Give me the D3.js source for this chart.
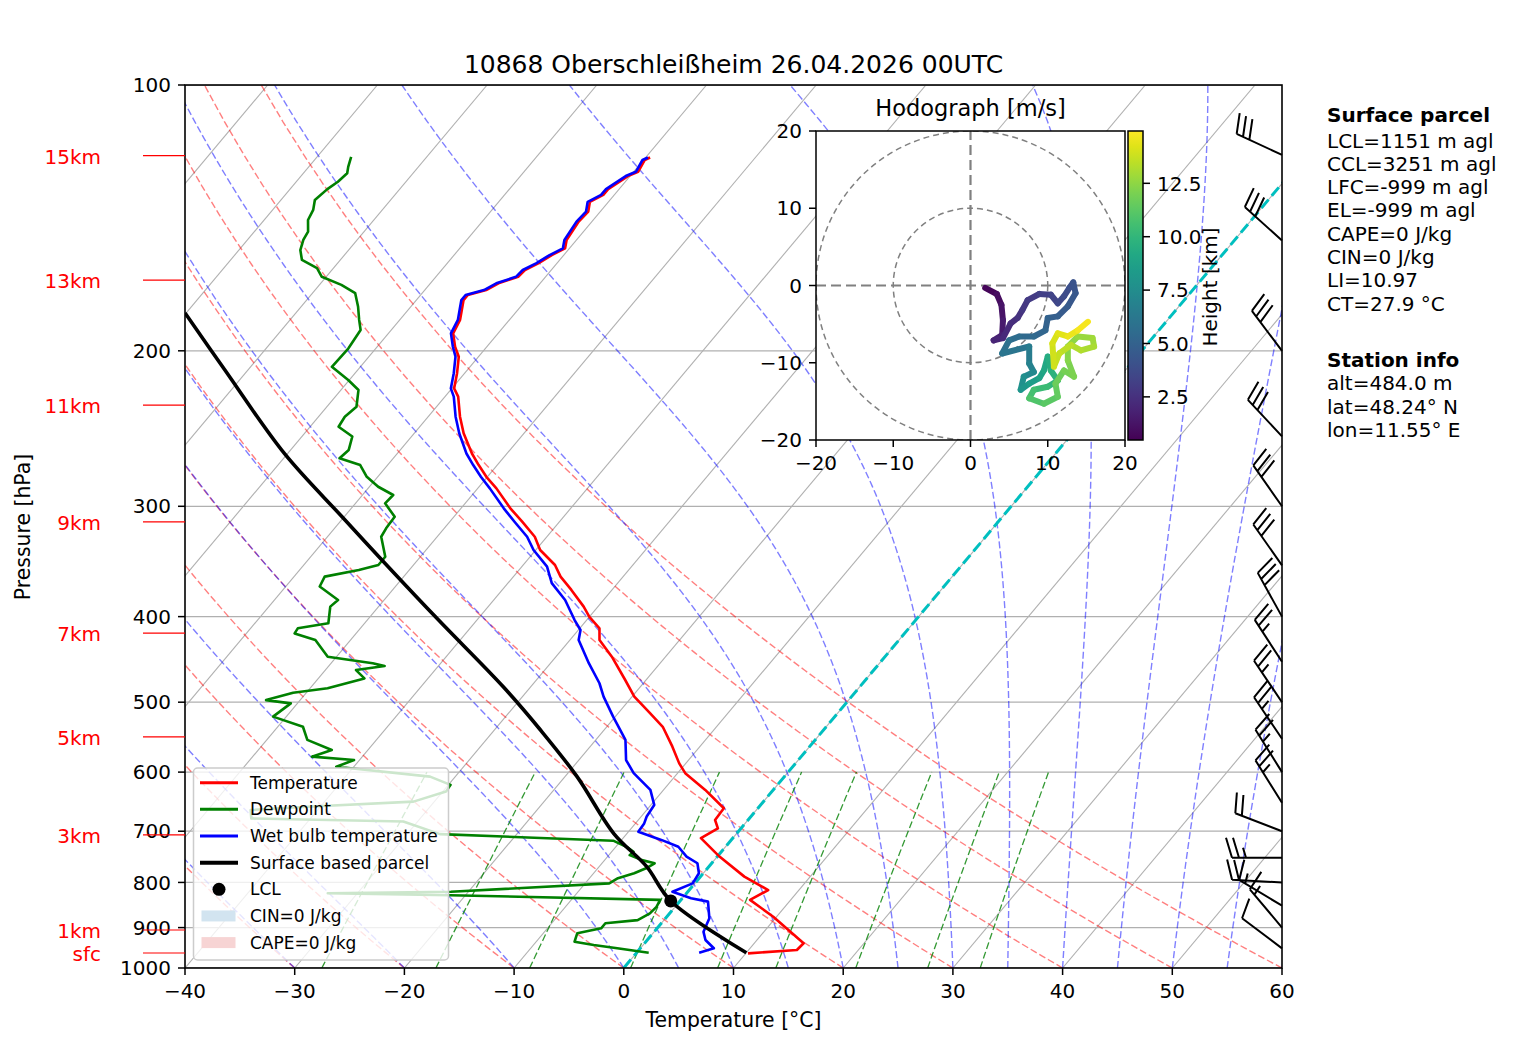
<!DOCTYPE html>
<html><head><meta charset="utf-8">
<script src="https://cdn.jsdelivr.net/npm/d3@7"></script>
<style>body{margin:0;background:#fff}svg{display:block}text{font-family:"DejaVu Sans",sans-serif}</style>
</head><body>
<svg id="c" width="1517" height="1054"></svg>
<script>
// ---------------- data ----------------
const title = "10868 Oberschleißheim 26.04.2026 00UTC";
const xTicks = [-40,-30,-20,-10,0,10,20,30,40,50,60];
const pTicks = [100,200,300,400,500,600,700,800,900,1000];
const heightLabels = ["15km","13km","11km","9km","7km","5km","3km","1km","sfc"];
const heightPressures = [120.2,166.3,230.4,312.5,417.6,547.4,706.7,905.7,961.7];
// [pressure hPa, temperature °C]
const temperature = [[120.8,-59.6],[121.6,-59.9],[125.4,-59.6],[126.8,-60.2],[131.2,-61.0],[133.2,-61.0],[135.6,-61.7],[139.1,-61.1],[142.8,-61.2],[149.8,-60.9],[153.1,-60.4],[155.8,-61.1],[159.2,-61.7],[162.0,-62.4],[164.9,-62.5],[167.7,-63.8],[170.7,-64.4],[172.9,-65.7],[175.2,-65.7],[179.8,-65.1],[184.5,-64.5],[191.1,-64.1],[197.9,-62.9],[203.1,-61.8],[212.0,-60.7],[220.6,-59.8],[225.4,-58.8],[237.5,-57.1],[248.0,-55.5],[261.4,-53.2],[269.4,-51.7],[277.8,-50.1],[286.3,-48.3],[301.6,-45.5],[312.3,-43.4],[324.8,-41.1],[336.2,-39.6],[349.6,-37.1],[360.4,-35.7],[373.1,-33.7],[389.7,-31.3],[400.2,-30.0],[412.4,-28.2],[425.2,-27.3],[444.1,-24.9],[471.9,-21.9],[492.8,-19.8],[514.6,-17.1],[533.1,-14.9],[561.5,-12.5],[586.5,-10.6],[601.7,-9.3],[628.5,-6.2],[659.3,-3.1],[679.8,-3.0],[694.9,-2.1],[712.8,-2.9],[747.9,0.2],[788.0,4.0],[816.1,7.2],[837.3,6.3],[874.8,9.7],[937.6,14.5],[954.1,14.4],[962.5,10.2]];
const dewpoint = [[120.6,-86.9],[123.8,-86.4],[125.9,-86.0],[128.7,-86.2],[131.2,-86.6],[135.0,-86.9],[138.5,-86.3],[142.2,-86.0],[146.6,-85.1],[149.8,-84.9],[153.8,-84.4],[157.8,-83.5],[161.2,-81.5],[164.9,-80.4],[168.4,-78.0],[172.1,-76.1],[178.3,-74.8],[184.5,-73.7],[189.4,-72.8],[198.7,-72.5],[208.5,-72.6],[215.8,-70.1],[221.5,-68.4],[231.4,-67.3],[237.5,-67.6],[243.8,-67.4],[250.1,-65.4],[259.0,-64.7],[264.7,-64.9],[269.4,-62.5],[277.8,-61.0],[285.1,-59.2],[291.3,-57.2],[297.7,-57.3],[308.3,-55.4],[317.7,-55.3],[324.8,-55.1],[342.2,-53.2],[349.6,-53.2],[354.2,-54.6],[360.4,-57.2],[369.8,-56.9],[383.0,-54.2],[389.7,-54.4],[407.0,-53.3],[412.4,-55.7],[417.9,-55.6],[425.2,-53.2],[444.1,-50.8],[451.7,-46.2],[455.0,-44.9],[459.8,-47.2],[469.9,-45.8],[482.2,-48.4],[487.8,-51.2],[497.3,-53.1],[501.5,-50.6],[519.2,-51.2],[533.1,-47.7],[551.6,-46.3],[566.3,-43.3],[576.3,-44.6],[581.4,-40.5],[591.7,-41.6],[607.1,-32.3],[620.3,-29.8],[631.3,-29.7],[648.0,-31.9],[656.6,-41.2],[662.3,-46.1],[677.0,-45.4],[682.6,-31.3],[705.3,-27.0],[717.5,-10.7],[730.1,-8.9],[738.6,-8.0],[745.0,-8.1],[754.8,-6.6],[761.0,-5.2],[771.1,-5.6],[781.1,-6.3],[791.3,-7.4],[801.9,-7.8],[819.6,-21.6],[823.0,-32.7],[827.1,-21.4],[837.3,-1.9],[852.5,-1.7],[867.2,-1.8],[882.6,-2.4],[889.9,-5.1],[901.7,-5.1],[913.3,-6.9],[933.7,-6.5],[941.9,-4.5],[949.9,-2.1],[960.9,1.1]];
const wetbulb = [[120.8,-59.8],[121.6,-60.1],[125.4,-59.8],[126.8,-60.4],[131.2,-61.2],[133.2,-61.2],[135.6,-61.9],[139.1,-61.3],[142.8,-61.4],[149.8,-61.1],[153.1,-60.6],[155.8,-61.3],[159.2,-61.9],[162.0,-62.6],[164.9,-62.7],[167.7,-64.0],[170.7,-64.6],[172.9,-65.9],[175.2,-65.9],[179.8,-65.3],[184.5,-64.7],[191.1,-64.3],[197.9,-63.1],[203.1,-62.1],[212.0,-61.0],[220.6,-60.1],[225.4,-59.2],[237.5,-57.5],[248.0,-55.9],[261.4,-53.7],[269.4,-52.2],[277.8,-50.6],[286.3,-48.9],[301.6,-46.1],[312.3,-44.1],[324.8,-41.8],[336.2,-40.2],[351.1,-37.7],[366.6,-36.0],[383.0,-33.5],[403.6,-31.1],[414.2,-29.8],[425.2,-29.2],[451.7,-26.5],[475.9,-24.0],[492.8,-22.6],[519.2,-20.2],[551.6,-17.3],[581.4,-15.7],[601.7,-14.0],[628.5,-11.2],[653.6,-9.7],[673.7,-9.5],[685.9,-9.2],[700.9,-9.1],[716.5,-6.3],[729.0,-4.3],[747.9,-2.8],[761.0,-1.3],[781.1,-0.4],[801.9,-0.2],[819.6,-1.4],[833.8,0.8],[841.1,2.6],[878.5,4.0],[910.0,4.5],[929.5,5.3],[949.9,6.7],[960.9,5.7]];
const parcel = [[960.9,10.0],[839.6,-0.85],[767.3,-5.7],[704.2,-11.2],[607.1,-18.9],[537.6,-25.8],[480.3,-32.5],[403.6,-43.5],[348.2,-52.7],[308.3,-60.2],[261.4,-70.3],[210.3,-82.1],[181.2,-90.1]];
const lcl = [839.6,-0.85];
const barbPressure = [950,900,850,800,750,700,650,600,550,500,450,400,350,300,250,200,150,120];
const barbDirection = [307,320,301,273,270,291,328,328,326,326,327,331,325,325,317,323,312,295];
const barbSpeedKt = [10,15,15,20,25,20,25,25,25,25,25,30,30,30,30,30,30,30];
// [height km, u m/s, v m/s]
const hodograph = [[0.5,1.9,-0.3],[0.8,3.4,-1.1],[1.1,4.0,-2.5],[1.4,4.2,-4.5],[1.7,4.1,-6.4],[1.9,3.0,-7.1],[2.1,4.2,-6.8],[2.3,5.2,-4.9],[2.5,6.1,-4.2],[2.7,6.7,-3.2],[2.9,7.4,-1.9],[3.1,8.9,-1.1],[3.3,10.4,-1.2],[3.5,11.3,-2.3],[3.7,12.1,-1.4],[3.9,12.8,-0.3],[4.1,13.3,0.4],[4.3,13.6,-1.0],[4.5,12.6,-2.7],[4.7,11.3,-4.0],[4.9,10.0,-4.2],[5.1,9.7,-5.8],[5.3,8.2,-6.6],[5.5,6.3,-6.6],[5.7,5.0,-7.1],[5.9,4.1,-8.8],[6.3,7.6,-7.9],[6.7,7.6,-10.1],[7.1,8.2,-11.2],[7.5,6.9,-11.8],[7.9,6.5,-13.5],[8.3,7.6,-12.7],[8.7,8.9,-12.0],[9.0,9.5,-11.0],[9.3,10.0,-9.2],[9.6,10.4,-11.0],[9.9,11.3,-12.3],[10.2,10.0,-13.1],[10.5,8.2,-13.5],[10.8,7.6,-14.6],[11.1,9.5,-15.3],[11.4,11.3,-14.4],[11.6,11.0,-12.7],[11.8,12.1,-11.0],[12.0,13.4,-11.8],[12.2,12.6,-9.7],[12.4,12.6,-7.9],[12.6,13.9,-6.6],[12.8,15.8,-6.8],[13.0,16.0,-7.9],[13.2,14.3,-8.4],[13.4,13.0,-7.7],[13.6,11.5,-8.8],[13.8,10.8,-10.5],[14.0,10.6,-7.5],[14.2,11.3,-6.2],[14.4,12.6,-6.6],[14.6,13.9,-5.8],[14.9,15.2,-4.7]];
const hodoTicks = [-20,-10,0,10,20];
const cbarTicks = [2.5,5,7.5,10,12.5];
const cbarTickLabels = ["2.5","5.0","7.5","10.0","12.5"];
const cbarRange = [0.48,14.95];
const parcelInfo = ["LCL=1151 m agl","CCL=3251 m agl","LFC=-999 m agl","EL=-999 m agl","CAPE=0 J/kg","CIN=0 J/kg","LI=10.97","CT=27.9 °C"];
const stationInfo = ["alt=484.0 m","lat=48.24° N","lon=11.55° E"];
const legendLabels = ["Temperature","Dewpoint","Wet bulb temperature","Surface based parcel","LCL","CIN=0 J/kg","CAPE=0 J/kg"];
const dryT0 = [-40,-30,-20,-10,0,10,20,30,40,50,60];
const moistT0 = [-40,-30,-20,-10,0,5,10,15,20,25,30,35,40,45,50,55,60];
const mixingRatios = [0.0004,0.001,0.002,0.004,0.007,0.01,0.016,0.024,0.032];

// ---------------- scales ----------------
const svg = d3.select("#c");
const xS = d3.scaleLinear().domain([-40,60]).range([185,1282]);
const yS = d3.scaleLog().domain([1000,100]).range([968,85]);
const K = 0.8391;
const X = (T,p) => xS(T) + K*(yS(1000)-yS(p));
const skewLine = d3.line().x(d=>X(d[1],d[0])).y(d=>yS(d[0]));

const defs = svg.append("defs");
defs.append("clipPath").attr("id","pc").append("rect").attr("x",185).attr("y",85).attr("width",1097).attr("height",883);
defs.append("clipPath").attr("id","hc").append("rect").attr("x",816).attr("y",131).attr("width",309).attr("height",309);

const g = svg.append("g").attr("clip-path","url(#pc)");
g.selectAll(".hg").data(pTicks).join("line").attr("x1",185).attr("x2",1282)
  .attr("y1",d=>yS(d)).attr("y2",d=>yS(d)).attr("stroke","#b0b0b0").attr("stroke-width",1.3);
g.selectAll(".iso").data(d3.range(-170,61,10)).join("line")
  .attr("x1",d=>X(d,1000)).attr("y1",yS(1000)).attr("x2",d=>X(d,100)).attr("y2",yS(100))
  .attr("stroke","#b0b0b0").attr("stroke-width",1.1);
const pLev = d3.range(1000,99,-10);
dryT0.forEach(t0=>{
  const pts = pLev.map(p=>[p,(t0+273.15)*Math.pow(p/1000,0.2857)-273.15]);
  g.append("path").attr("d",skewLine(pts)).attr("fill","none").attr("stroke","#ff0000")
   .attr("stroke-opacity",0.5).attr("stroke-width",1.4).attr("stroke-dasharray","7,3");
});
const Rd=287.04749, Cp=1004.6662, Lv=2.50084e6, eps=0.6219569;
const es = T => 6.112*Math.exp(17.67*(T-273.15)/(T-29.65));
function dTdp(p,T){const e=es(T);const rs=eps*e/Math.max(p-e,1);return (Rd*T+Lv*rs)/(Cp+(Lv*Lv*rs*eps)/(Rd*T*T))/p;}
moistT0.forEach(t0=>{
  let T=t0+273.15, p=1000; const dp=-5; const pts=[[p,t0]];
  while(p>100){
    const k1=dTdp(p,T),k2=dTdp(p+dp/2,T+dp/2*k1),k3=dTdp(p+dp/2,T+dp/2*k2),k4=dTdp(p+dp,T+dp*k3);
    T+=dp/6*(k1+2*k2+2*k3+k4); p+=dp; pts.push([p,T-273.15]);
  }
  g.append("path").attr("d",skewLine(pts)).attr("fill","none").attr("stroke","#0000ff")
   .attr("stroke-opacity",0.5).attr("stroke-width",1.4).attr("stroke-dasharray","7,3");
});
const pMix = d3.range(1000,599,-10);
mixingRatios.forEach(w=>{
  const pts = pMix.map(p=>{const e=p*w/(eps+w);const l=Math.log(e/6.112);return [p,243.5*l/(17.67-l)];});
  g.append("path").attr("d",skewLine(pts)).attr("fill","none").attr("stroke","#008000")
   .attr("stroke-opacity",0.8).attr("stroke-width",1.3).attr("stroke-dasharray","7,3");
});
g.append("line").attr("x1",X(0,1000)).attr("y1",yS(1000)).attr("x2",X(0,100)).attr("y2",yS(100))
  .attr("stroke","#00bfbf").attr("stroke-width",3).attr("stroke-dasharray","11,5");
const prof = (data,color,w)=>g.append("path").attr("d",skewLine(data)).attr("fill","none")
  .attr("stroke",color).attr("stroke-width",w).attr("stroke-linejoin","round");
prof(temperature,"#ff0000",2.6);
prof(dewpoint,"#008000",2.6);
prof(wetbulb,"#0000ff",2.6);
g.append("path").attr("d",skewLine.curve(d3.curveCatmullRom)(parcel)).attr("fill","none")
  .attr("stroke","#000").attr("stroke-width",3.6);
skewLine.curve(d3.curveLinear);
g.append("circle").attr("cx",X(lcl[1],lcl[0])).attr("cy",yS(lcl[0])).attr("r",6.5).attr("fill","#000");

// wind barbs
const gb = svg.append("g").attr("stroke","#000").attr("stroke-width",2).attr("fill","none");
barbPressure.forEach((p,i)=>{
  const bx=1282, by=yS(p), d=barbDirection[i]*Math.PI/180;
  const sx=Math.sin(d), sy=-Math.cos(d), px=-sy, py=sx;
  const L=50, Hf=20, Wh=6, sp=7;
  const tx=bx+L*sx, ty=by+L*sy;
  let path=`M${bx},${by}L${tx},${ty}`;
  const spd=barbSpeedKt[i], n10=Math.floor(spd/10), n5=(spd%10)>=5?1:0;
  let pos=0;
  for(let k=0;k<n10;k++){const Px=tx-sx*pos,Py=ty-sy*pos;path+=`M${Px},${Py}L${Px+px*Hf+sx*Wh},${Py+py*Hf+sy*Wh}`;pos+=sp;}
  if(n5){ if(n10===0) pos=sp; const Px=tx-sx*pos,Py=ty-sy*pos;path+=`M${Px},${Py}L${Px+px*Hf/2+sx*Wh/2},${Py+py*Hf/2+sy*Wh/2}`;}
  gb.append("path").attr("d",path);
});

// frame & axes
svg.append("rect").attr("x",185).attr("y",85).attr("width",1097).attr("height",883)
  .attr("fill","none").attr("stroke","#000").attr("stroke-width",1.6);
const ax = svg.append("g").attr("font-size",20);
xTicks.forEach(t=>{
  ax.append("line").attr("x1",xS(t)).attr("x2",xS(t)).attr("y1",968).attr("y2",975).attr("stroke","#000").attr("stroke-width",1.5);
  ax.append("text").attr("x",xS(t)).attr("y",998).attr("text-anchor","middle").text(t<0?"\u2212"+(-t):t);
});
pTicks.forEach(p=>{
  ax.append("line").attr("x1",178).attr("x2",185).attr("y1",yS(p)).attr("y2",yS(p)).attr("stroke","#000").attr("stroke-width",1.5);
  ax.append("text").attr("x",171).attr("y",yS(p)).attr("dy","0.36em").attr("text-anchor","end").text(p);
});
ax.append("text").attr("x",733.5).attr("y",1027).attr("text-anchor","middle").attr("font-size",20.4).text("Temperature [°C]");
ax.append("text").attr("transform","translate(30,527) rotate(-90)").attr("text-anchor","middle").attr("font-size",20.4).text("Pressure [hPa]");
svg.append("text").attr("x",733.5).attr("y",73).attr("text-anchor","middle").attr("font-size",25).text(title);
heightLabels.forEach((l,i)=>{
  const y=yS(heightPressures[i]);
  svg.append("line").attr("x1",143).attr("x2",185).attr("y1",y).attr("y2",y).attr("stroke","#ff0000").attr("stroke-width",1.2);
  svg.append("text").attr("x",101).attr("y",y).attr("dy","0.4em").attr("text-anchor","end").attr("fill","#ff0000").attr("font-size",20).text(l);
});

// legend
const lg = svg.append("g");
lg.append("rect").attr("x",193.5).attr("y",768).attr("width",255).attr("height",192).attr("rx",4)
  .attr("fill","#fff").attr("fill-opacity",0.8).attr("stroke","#cccccc").attr("stroke-width",1.5);
const lcol=["#ff0000","#008000","#0000ff","#000"];
legendLabels.forEach((l,i)=>{
  const y=782.7+i*26.65;
  if(i<4) lg.append("line").attr("x1",200).attr("x2",238).attr("y1",y).attr("y2",y).attr("stroke",lcol[i]).attr("stroke-width",i===3?4:3);
  else if(i===4) lg.append("circle").attr("cx",219).attr("cy",y).attr("r",6.5).attr("fill","#000");
  else lg.append("rect").attr("x",201.5).attr("y",y-5.5).attr("width",34).attr("height",11).attr("fill",i===5?"#d2e4f0":"#f7d4d4");
  lg.append("text").attr("x",250).attr("y",y).attr("dy","0.36em").attr("font-size",17).text(l);
});

// hodograph
const hx=d3.scaleLinear().domain([-20,20]).range([816,1125]);
const hy=d3.scaleLinear().domain([-20,20]).range([440,131]);
const hg=svg.append("g");
hg.append("rect").attr("x",816).attr("y",131).attr("width",309).attr("height",309).attr("fill","#fff");
const hin=hg.append("g").attr("clip-path","url(#hc)");
[10,20].forEach(r=>hin.append("circle").attr("cx",hx(0)).attr("cy",hy(0)).attr("r",hx(r)-hx(0))
  .attr("fill","none").attr("stroke","#808080").attr("stroke-width",1.5).attr("stroke-dasharray","6,4"));
hin.append("line").attr("x1",hx(-20)).attr("x2",hx(20)).attr("y1",hy(0)).attr("y2",hy(0)).attr("stroke","#808080").attr("stroke-width",2.2).attr("stroke-dasharray","10,5");
hin.append("line").attr("y1",hy(-20)).attr("y2",hy(20)).attr("x1",hx(0)).attr("x2",hx(0)).attr("stroke","#808080").attr("stroke-width",2.2).attr("stroke-dasharray","10,5");
const cs=d3.scaleSequential(d3.interpolateViridis).domain(cbarRange);
for(let i=1;i<hodograph.length;i++){
  const a=hodograph[i-1],b=hodograph[i];
  hin.append("line").attr("x1",hx(a[1])).attr("y1",hy(a[2])).attr("x2",hx(b[1])).attr("y2",hy(b[2]))
    .attr("stroke",cs((a[0]+b[0])/2)).attr("stroke-width",6).attr("stroke-linecap","round");
}
hg.append("rect").attr("x",816).attr("y",131).attr("width",309).attr("height",309).attr("fill","none").attr("stroke","#000").attr("stroke-width",1.5);
hodoTicks.forEach(t=>{
  hg.append("line").attr("x1",hx(t)).attr("x2",hx(t)).attr("y1",440).attr("y2",447).attr("stroke","#000").attr("stroke-width",1.5);
  hg.append("text").attr("x",hx(t)).attr("y",470).attr("text-anchor","middle").attr("font-size",20).text(t<0?"\u2212"+(-t):t);
  hg.append("line").attr("x1",809).attr("x2",816).attr("y1",hy(t)).attr("y2",hy(t)).attr("stroke","#000").attr("stroke-width",1.5);
  hg.append("text").attr("x",802).attr("y",hy(t)).attr("dy","0.36em").attr("text-anchor","end").attr("font-size",20).text(t<0?"\u2212"+(-t):t);
});
hg.append("text").attr("x",970.5).attr("y",116).attr("text-anchor","middle").attr("font-size",22.5).text("Hodograph [m/s]");
const grad=defs.append("linearGradient").attr("id","vir").attr("x1",0).attr("y1",1).attr("x2",0).attr("y2",0);
d3.range(0,1.0001,0.05).forEach(t=>grad.append("stop").attr("offset",t).attr("stop-color",d3.interpolateViridis(t)));
const cy=d3.scaleLinear().domain(cbarRange).range([440,131]);
hg.append("rect").attr("x",1128).attr("y",131).attr("width",15).attr("height",309).attr("fill","url(#vir)").attr("stroke","#000").attr("stroke-width",1.5);
cbarTicks.forEach((t,i)=>{
  hg.append("line").attr("x1",1143).attr("x2",1150).attr("y1",cy(t)).attr("y2",cy(t)).attr("stroke","#000").attr("stroke-width",1.5);
  hg.append("text").attr("x",1157).attr("y",cy(t)).attr("dy","0.36em").attr("font-size",20).text(cbarTickLabels[i]);
});
hg.append("text").attr("transform","translate(1217,287) rotate(-90)").attr("text-anchor","middle").attr("font-size",20).text("Height [km]");

// info text
const it=svg.append("g").attr("font-size",20);
it.append("text").attr("x",1327).attr("y",121.5).attr("font-weight","bold").text("Surface parcel");
parcelInfo.forEach((s,i)=>it.append("text").attr("x",1327).attr("y",147.5+i*23.3).text(s));
it.append("text").attr("x",1327).attr("y",367).attr("font-weight","bold").text("Station info");
stationInfo.forEach((s,i)=>it.append("text").attr("x",1327).attr("y",390.3+i*23.3).text(s));
</script></body></html>
